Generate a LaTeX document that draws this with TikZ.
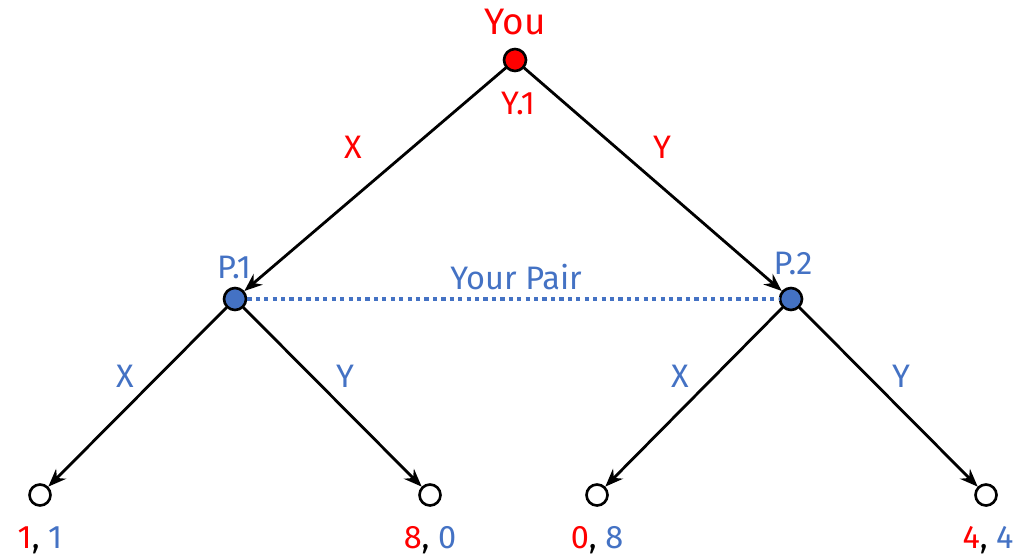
\documentclass[tikz,border=0pt]{standalone}
\usepackage{fontspec}
\setmainfont{Fira Sans}
\usetikzlibrary{arrows.meta}
\definecolor{youred}{HTML}{FF0000}
\definecolor{pairblue}{HTML}{4472C4}
\begin{document}
\begin{tikzpicture}[
    x=0.02cm,
    y=0.02cm,
    line cap=round,
    line join=round,
    move/.style={
        line width=1.6pt,
        -{Stealth[length=0.36cm,width=0.28cm]}
    },
    info/.style={
        line width=2.7pt,
        pairblue,
        line cap=butt,
        dash pattern=on 2.4pt off 2.4pt
    },
    root/.style={
        circle,
        draw,
        line width=1.5pt,
        fill=youred,
        minimum size=0.44cm,
        inner sep=0pt
    },
    pairnode/.style={
        root,
        fill=pairblue
    },
    leaf/.style={
        root,
        fill=white,
        minimum size=0.42cm
    },
    every node/.style={
        font=\fontsize{18.5}{22}\selectfont
    }
]

\useasboundingbox (0,0) rectangle (1030,559);

% =================================================
% Узлы дерева
% =================================================

\node[root]     (Y1) at (515,499) {};
\node[pairnode] (P1) at (235,260) {};
\node[pairnode] (P2) at (791,260) {};

\node[leaf] (L1) at (40,64)  {};
\node[leaf] (L2) at (430,64) {};
\node[leaf] (L3) at (597,64) {};
\node[leaf] (L4) at (986,64) {};

% =================================================
% Ходы
% =================================================

\draw[move] (Y1)--(P1);
\draw[move] (Y1)--(P2);

\draw[move] (P1)--(L1);
\draw[move] (P1)--(L2);
\draw[move] (P2)--(L3);
\draw[move] (P2)--(L4);

% Информационное множество
\draw[info] (P1)--(P2);

% =================================================
% Подписи
% =================================================

\node[youred, font=\fontsize{21}{25}\selectfont] (you) at (515,537) {You};
\node[youred] (y1lab) at (518,456) {Y.1};
\node[youred] (xa) at (353,412) {X};
\node[youred] (ya) at (662,412) {Y};

\node[pairblue] (p1lab) at (234,292) {P.1};
\node[pairblue] (p2lab) at (793,296) {P.2};
\node[pairblue] (pair)  at (516,282) {Your Pair};

\node[pairblue] (xb) at (125,183) {X};
\node[pairblue] (yb) at (345,183) {Y};
\node[pairblue] (xc) at (680,183) {X};
\node[pairblue] (yc) at (901,183) {Y};

\node (u1) at (40,19)  {\textcolor{youred}{1}, \textcolor{pairblue}{1}};
\node (u2) at (430,19) {\textcolor{youred}{8}, \textcolor{pairblue}{0}};
\node (u3) at (597,19) {\textcolor{youred}{0}, \textcolor{pairblue}{8}};
\node (u4) at (988,19) {\textcolor{youred}{4}, \textcolor{pairblue}{4}};

\end{tikzpicture}
\end{document}
